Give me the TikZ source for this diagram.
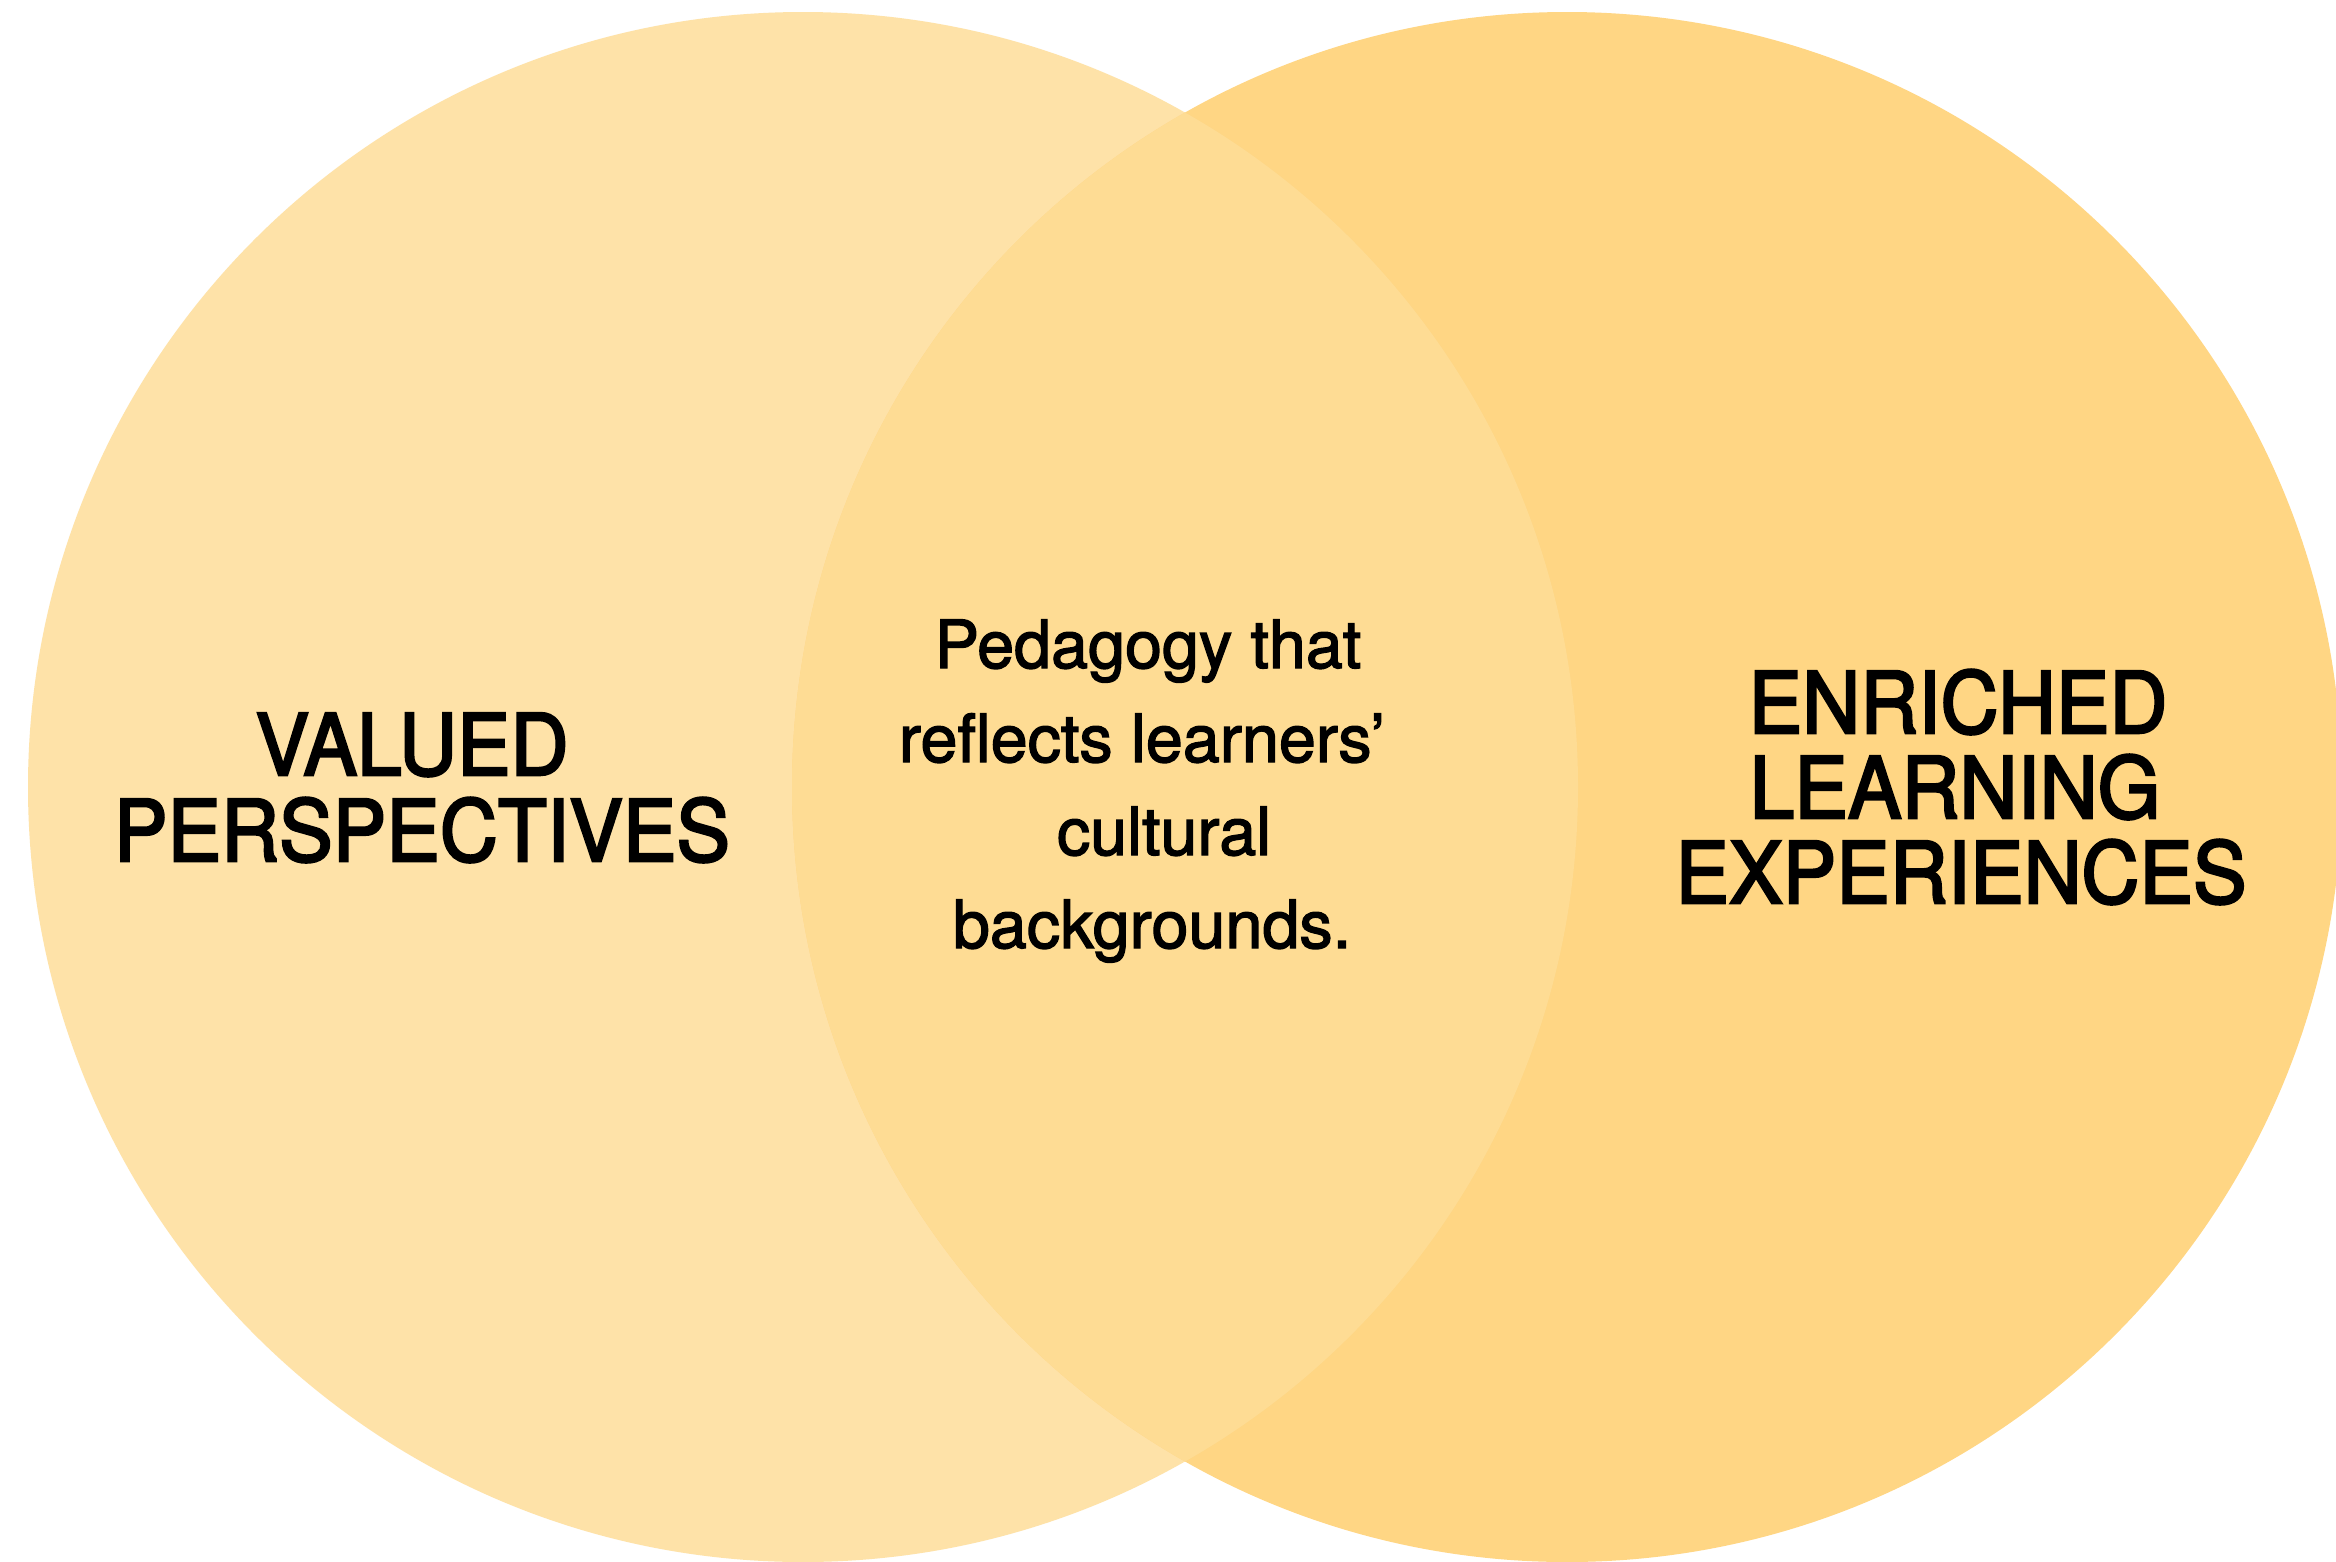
\documentclass[tikz,border=0pt]{standalone}
\usepackage{graphicx}
\usepackage{fontspec}
\newfontfamily\vennfont{TeX Gyre Heros}[FakeBold=3]
\newfontfamily\vennmidfont{TeX Gyre Heros}[FakeBold=2]
\definecolor{leftfill}{RGB}{254,226,168}
\definecolor{rightfill}{RGB}{255,214,132}
\definecolor{midfill}{RGB}{254,220,148}
\begin{document}
\begin{tikzpicture}[x=1pt,y=-1pt,
  bigtext/.style={anchor=base,inner sep=0pt,font=\vennfont\fontsize{85}{85}\selectfont},
  midtext/.style={anchor=base,inner sep=0pt,font=\vennmidfont\fontsize{66.5}{66.5}\selectfont}]
\useasboundingbox (0,0) rectangle (2336,1561);
\clip (0,0) rectangle (2336,1561);
\fill[white] (0,0) rectangle (2336,1561);
\fill[leftfill] (803,787) circle[radius=775];
\fill[rightfill] (1567,787) circle[radius=775];
\begin{scope}
  \clip (803,787) circle[radius=775];
  \fill[midfill] (1567,787) circle[radius=775];
\end{scope}
% left label
\node[bigtext] (valued) at (412,775) {\scalebox{0.945}[1]{VALUED}};
\node[bigtext] (perspectives) at (422,861) {\scalebox{0.945}[1]{PERSPECTIVES}};
% right label
\node[bigtext] (enriched) at (1958,733) {\scalebox{0.945}[1]{ENRICHED}};
\node[bigtext] (learning) at (1955,818) {\scalebox{0.945}[1]{LEARNING}};
\node[bigtext] (experiences) at (1961,903) {\scalebox{0.945}[1]{EXPERIENCES}};
% middle text
\node[midtext] (mid1) at (1148,668) {Pedagogy that};
\node[midtext] (mid2) at (1142,762) {reflects learners’};
\node[midtext] (mid3) at (1164,855) {cultural};
\node[midtext] (mid4) at (1152,948) {backgrounds.};
\end{tikzpicture}
\end{document}
